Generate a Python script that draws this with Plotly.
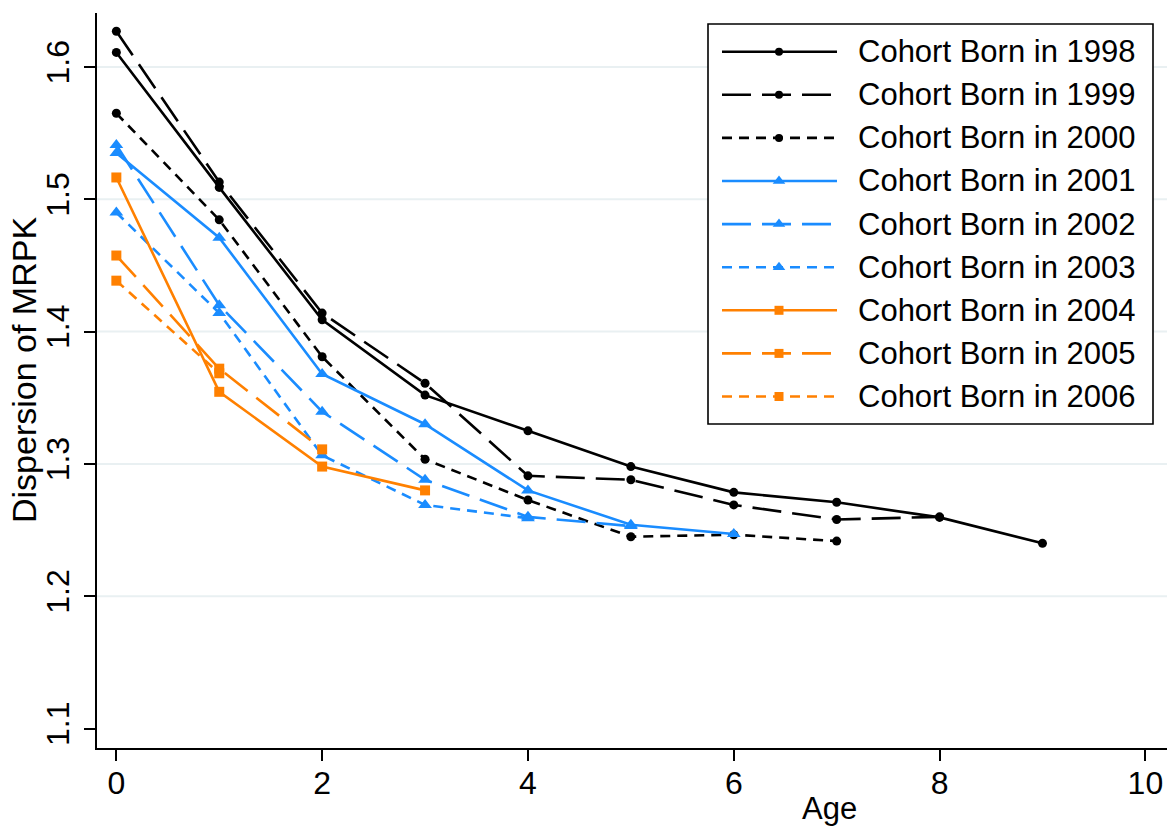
import plotly.graph_objects as go

# ---- data: dispersion of MRPK by firm age, one series per birth cohort ----
ages = [0, 1, 2, 3, 4, 5, 6, 7, 8, 9]
cohort_labels = ["1998", "1999", "2000", "2001", "2002", "2003", "2004", "2005", "2006"]

mrpk_1998 = [1.611, 1.509, 1.409, 1.352, 1.325, 1.298, 1.2785, 1.271, 1.2596, 1.240]
mrpk_1999 = [1.627, 1.513, 1.414, 1.361, 1.291, 1.288, 1.269, 1.258, 1.260]
mrpk_2000 = [1.565, 1.4845, 1.381, 1.3035, 1.2727, 1.245, 1.2465, 1.2417]
mrpk_2001 = [1.535, 1.471, 1.368, 1.330, 1.280, 1.254, 1.247]
mrpk_2002 = [1.541, 1.420, 1.3395, 1.288, 1.260, 1.253]
mrpk_2003 = [1.490, 1.414, 1.3065, 1.269, 1.259]
mrpk_2004 = [1.5165, 1.3545, 1.298, 1.280]
mrpk_2005 = [1.4575, 1.372, 1.311]
mrpk_2006 = [1.4385, 1.3685]

series = [mrpk_1998, mrpk_1999, mrpk_2000, mrpk_2001, mrpk_2002,
          mrpk_2003, mrpk_2004, mrpk_2005, mrpk_2006]

x_ticks = [0, 2, 4, 6, 8, 10]
y_ticks = [1.1, 1.2, 1.3, 1.4, 1.5, 1.6]
y_grid = [1.2, 1.3, 1.4, 1.5, 1.6]

# ---- styling ----
BLACK = "#000000"
BLUE = "#1a8cff"
ORANGE = "#ff8000"
GRID = "#e9f0f2"
FONT = "Liberation Sans, Arial, Helvetica, sans-serif"

LONG = "29px,11px"
SHORT = "10px,7px"
LINE_W = 2.6

styles = [
    (BLACK, "solid", "circle", 9),
    (BLACK, LONG, "circle", 9),
    (BLACK, SHORT, "circle", 9),
    (BLUE, "solid", "triangle-up", 12),
    (BLUE, LONG, "triangle-up", 12),
    (BLUE, SHORT, "triangle-up", 12),
    (ORANGE, "solid", "square", 10),
    (ORANGE, LONG, "square", 10),
    (ORANGE, SHORT, "square", 10),
]

W, H = 1167, 827
ML, MR, MT, MB = 97, 0, 13, 79
PW, PH = W - ML - MR, H - MT - MB


def px(x):
    """page pixel x -> paper fraction"""
    return (x - ML) / PW


def py(y):
    """page pixel y (from top) -> paper fraction"""
    return (H - MB - y) / PH


fig = go.Figure()

for label, vals, (col, dash, sym, msz) in zip(cohort_labels, series, styles):
    fig.add_trace(go.Scatter(
        x=ages[:len(vals)], y=vals, mode="lines+markers",
        name=f"Cohort Born in {label}",
        line=dict(color=col, width=LINE_W, dash=dash),
        marker=dict(color=col, symbol=sym, size=msz, line=dict(width=0)),
        showlegend=False, cliponaxis=False,
    ))

# ---- horizontal gridlines ----
shapes = []
for g in y_grid:
    shapes.append(dict(type="line", xref="paper", yref="y", x0=0, x1=1, y0=g, y1=g,
                       line=dict(color=GRID, width=2), layer="below"))

# ---- legend box ----
LEG_X0, LEG_X1, LEG_Y0, LEG_Y1 = 708, 1153, 24, 424
ROW0, ROW_STEP = 51.7, 43.1
SAMPLE_X0, SAMPLE_X1, SAMPLE_MID, TEXT_X = 722, 837, 779, 856

shapes.append(dict(type="rect", xref="paper", yref="paper",
                   x0=px(LEG_X0), x1=px(LEG_X1), y0=py(LEG_Y1), y1=py(LEG_Y0),
                   fillcolor="white", line=dict(color=BLACK, width=1.6), layer="below"))

annotations = []
for i, (label, (col, dash, sym, msz)) in enumerate(zip(cohort_labels, styles)):
    ry = ROW0 + ROW_STEP * i
    fig.add_trace(go.Scatter(
        x=[px(SAMPLE_X0), px(SAMPLE_X1)], y=[py(ry), py(ry)], mode="lines",
        line=dict(color=col, width=LINE_W, dash=dash),
        xaxis="x2", yaxis="y2", showlegend=False, hoverinfo="skip",
    ))
    fig.add_trace(go.Scatter(
        x=[px(SAMPLE_MID)], y=[py(ry)], mode="markers",
        marker=dict(color=col, symbol=sym, size=msz - 1, line=dict(width=0)),
        xaxis="x2", yaxis="y2", showlegend=False, hoverinfo="skip",
    ))
    annotations.append(dict(
        xref="paper", yref="paper", x=px(TEXT_X), y=py(ry), xanchor="left", yanchor="middle",
        text=f"Cohort Born in {label}", showarrow=False,
        font=dict(family=FONT, size=31, color=BLACK),
    ))

# ---- axis titles ----
annotations.append(dict(xref="paper", yref="paper", x=px(829), y=py(808), text="Age",
                        showarrow=False, xanchor="center", yanchor="middle",
                        font=dict(family=FONT, size=31, color=BLACK)))
annotations.append(dict(xref="paper", yref="paper", x=px(24), y=py(370),
                        text="Dispersion of MRPK", showarrow=False, textangle=-90,
                        xanchor="center", yanchor="middle",
                        font=dict(family=FONT, size=34, color=BLACK)))

axis_common = dict(
    showline=True, linecolor=BLACK, linewidth=2, mirror=False,
    ticks="outside", ticklen=11, tickwidth=2, tickcolor=BLACK,
    showgrid=False, zeroline=False,
    tickfont=dict(family=FONT, size=32, color=BLACK),
)

fig.update_layout(
    width=W, height=H,
    margin=dict(l=ML, r=MR, t=MT, b=MB, pad=0),
    paper_bgcolor="white", plot_bgcolor="white",
    xaxis=dict(range=[-0.188, 10.21], tickvals=x_ticks,
               ticktext=[str(v) for v in x_ticks], ticklabelstandoff=-5, **axis_common),
    yaxis=dict(range=[1.0853, 1.6408], tickvals=y_ticks,
               ticktext=[f"{v:.1f}" for v in y_ticks], tickangle=-90,
               ticklabelstandoff=2, **axis_common),
    xaxis2=dict(range=[0, 1], overlaying="x", visible=False, fixedrange=True),
    yaxis2=dict(range=[0, 1], overlaying="y", visible=False, fixedrange=True),
    shapes=shapes,
    annotations=annotations,
    showlegend=False,
)

fig.write_html("out.html")
